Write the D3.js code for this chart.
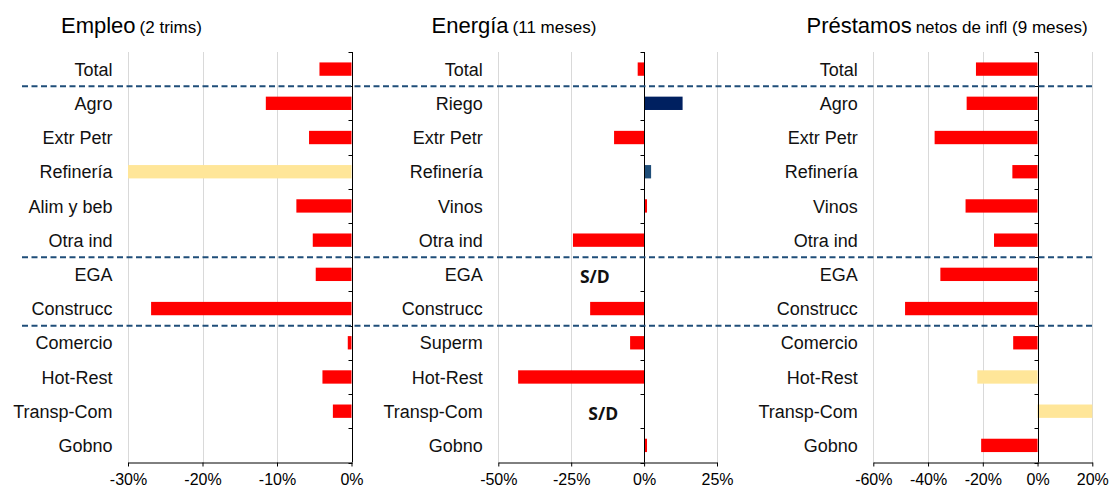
<!DOCTYPE html>
<html>
<head>
<meta charset="utf-8">
<script src="https://cdn.jsdelivr.net/npm/d3@7"></script>
<style>
  html, body { margin: 0; padding: 0; background: #fff; }
  svg { display: block; font-family: "Liberation Sans", Arial, sans-serif; }
</style>
</head>
<body>
<svg id="chart" width="1112" height="491"></svg>
<script>
// ---------------- DATA ----------------
const empleoCats = ["Total","Agro","Extr Petr","Refinería","Alim y beb","Otra ind","EGA","Construcc","Comercio","Hot-Rest","Transp-Com","Gobno"];
const empleoValues = [-4.3, -11.5, -5.7, -30, -7.4, -5.2, -4.8, -26.9, -0.5, -3.9, -2.5, null];
const empleoKinds = ["n","n","n","p","n","n","n","n","n","n","n","n"];
const empleoTicks = [-30, -20, -10, 0];

const energiaCats = ["Total","Riego","Extr Petr","Refinería","Vinos","Otra ind","EGA","Construcc","Superm","Hot-Rest","Transp-Com","Gobno"];
const energiaValues = [-2.2, 13.2, -10.3, 2.4, 1.0, -24.4, null, -18.5, -4.8, -43.2, null, 1.0];
const energiaKinds = ["n","d","n","b","n","n","n","n","n","n","n","n"];
const energiaTicks = [-50, -25, 0, 25];
const energiaNotes = [{cat: "EGA", x: -16.9, text: "S/D"}, {cat: "Transp-Com", x: -14.0, text: "S/D"}];

const prestCats = ["Total","Agro","Extr Petr","Refinería","Vinos","Otra ind","EGA","Construcc","Comercio","Hot-Rest","Transp-Com","Gobno"];
const prestValues = [-22.5, -25.9, -37.6, -9.2, -26.3, -15.9, -35.5, -48.4, -8.9, -22.0, 20, -20.6];
const prestKinds = ["n","n","n","n","n","n","n","n","n","p","p","n"];
const prestTicks = [-60, -40, -20, 0, 20];

const groupBreaks = ["Total", "Otra ind", "Construcc"]; // dashed separator after these rows

// ---------------- STYLE / LAYOUT ----------------
const kindColor = { n: "#FF0000", p: "#FFE699", d: "#002060", b: "#1F4E79" };
const plotTop = 52, plotBottom = 462.5;

const panels = [
  { cats: empleoCats, values: empleoValues, kinds: empleoKinds, ticks: empleoTicks, notes: [],
    domain: [-30, 0], range: [128, 351.5], title: "Empleo", sub: "(2 trims)", titleX: 61 },
  { cats: energiaCats, values: energiaValues, kinds: energiaKinds, ticks: energiaTicks, notes: energiaNotes,
    domain: [-50, 25], range: [498.3, 717], title: "Energía", sub: "(11 meses)", titleX: 431.5 },
  { cats: prestCats, values: prestValues, kinds: prestKinds, ticks: prestTicks, notes: [],
    domain: [-60, 20], range: [873.3, 1092.3], title: "Préstamos", sub: "netos de infl (9 meses)", titleX: 806.5 }
];

const svg = d3.select("#chart");

panels.forEach(p => {
  const x = d3.scaleLinear().domain(p.domain).range(p.range).clamp(true);
  const y = d3.scaleBand().domain(p.cats).range([plotTop, plotBottom]).paddingInner(0.61).paddingOuter(0.305);
  const g = svg.append("g");

  // gridlines
  g.selectAll("line.grid").data(p.ticks.filter(t => t !== 0)).join("line")
    .attr("class", "grid")
    .attr("x1", d => Math.round(x(d)) + 0.5).attr("x2", d => Math.round(x(d)) + 0.5)
    .attr("y1", plotTop).attr("y2", plotBottom)
    .attr("stroke", "#D9D9D9").attr("stroke-width", 1);

  // bars
  const data = p.cats.map((c, i) => ({ cat: c, v: p.values[i], k: p.kinds[i] })).filter(d => d.v !== null);
  g.selectAll("rect").data(data).join("rect")
    .attr("x", d => Math.min(x(0), x(d.v)))
    .attr("width", d => Math.abs(x(d.v) - x(0)))
    .attr("y", d => y(d.cat))
    .attr("height", y.bandwidth())
    .attr("fill", d => kindColor[d.k]);

  // x axis
  const ax = g.append("g").attr("transform", `translate(0,${plotBottom})`)
    .call(d3.axisBottom(x).tickValues(p.ticks).tickSize(4).tickSizeOuter(0).tickPadding(7).tickFormat(d => d + "%"));
  ax.select(".domain").attr("stroke", "#000");
  ax.selectAll(".tick line").attr("stroke", "#000");
  ax.selectAll("text").attr("font-size", 16).attr("fill", "#000").attr("font-family", "'Liberation Sans', Arial, sans-serif");

  // zero line with boundary ticks
  const x0 = Math.round(x(0)) + 0.5;
  g.append("line").attr("x1", x0).attr("x2", x0).attr("y1", plotTop).attr("y2", plotBottom)
    .attr("stroke", "#000").attr("stroke-width", 1);
  const bounds = d3.range(p.cats.length + 1).map(i => plotTop + i * y.step());
  g.selectAll("line.ytick").data(bounds).join("line")
    .attr("class", "ytick")
    .attr("x1", x0 - 4).attr("x2", x0)
    .attr("y1", d => Math.round(d) + 0.5).attr("y2", d => Math.round(d) + 0.5)
    .attr("stroke", "#000").attr("stroke-width", 1);

  // category labels
  g.selectAll("text.cat").data(p.cats).join("text")
    .attr("class", "cat")
    .attr("x", p.range[0] - 15.5)
    .attr("y", d => y(d) + y.bandwidth() / 2)
    .attr("dy", "0.37em")
    .attr("text-anchor", "end")
    .attr("font-size", 18)
    .attr("fill", "#111")
    .text(d => d);

  // notes (S/D)
  g.selectAll("text.note").data(p.notes).join("text")
    .attr("class", "note")
    .attr("x", d => x(d.x))
    .attr("y", d => y(d.cat) + y.bandwidth() / 2 + 9)
    .attr("text-anchor", "middle")
    .attr("font-family", "'Open Sans', sans-serif")
    .attr("font-weight", "bold")
    .attr("font-size", 17.5)
    .attr("fill", "#111")
    .text(d => d.text);

  // title
  const t = g.append("text").attr("x", p.titleX).attr("y", 33).attr("fill", "#000");
  t.append("tspan").attr("font-size", 22).text(p.title);
  t.append("tspan").attr("font-size", 17).attr("dx", 4).text(p.sub);
});

// dashed group separators across all panels
const yAll = d3.scaleBand().domain(empleoCats).range([plotTop, plotBottom]);
svg.selectAll("line.sep").data(groupBreaks).join("line")
  .attr("class", "sep")
  .attr("x1", 22).attr("x2", 1093)
  .attr("y1", d => yAll(d) + yAll.step()).attr("y2", d => yAll(d) + yAll.step())
  .attr("stroke", "#1F4E79").attr("stroke-width", 2).attr("stroke-dasharray", "6,3.5");
</script>
</body>
</html>
